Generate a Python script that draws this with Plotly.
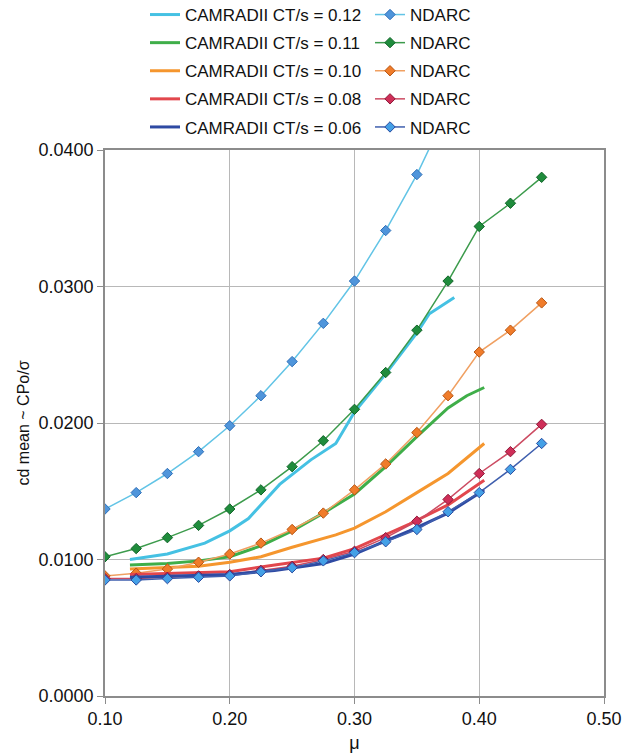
import plotly.graph_objects as go

# ---------------- data ----------------
mu_ndarc = [0.100, 0.125, 0.150, 0.175, 0.200, 0.225, 0.250, 0.275,
            0.300, 0.325, 0.350, 0.375, 0.400, 0.425, 0.450]

nd_012 = [0.0137, 0.0149, 0.0163, 0.0179, 0.0198, 0.0220, 0.0245, 0.0273,
          0.0304, 0.0341, 0.0382, 0.0430]
nd_011 = [0.0102, 0.0108, 0.0116, 0.0125, 0.0137, 0.0151, 0.0168, 0.0187,
          0.0210, 0.0237, 0.0268, 0.0304, 0.0344, 0.0361, 0.0380]
nd_010 = [0.0088, 0.0090, 0.0093, 0.0098, 0.0104, 0.0112, 0.0122, 0.0134,
          0.0151, 0.0170, 0.0193, 0.0220, 0.0252, 0.0268, 0.0288]
nd_008 = [0.0086, 0.0086, 0.0087, 0.0088, 0.0089, 0.0092, 0.0095, 0.0100,
          0.0106, 0.0116, 0.0128, 0.0144, 0.0163, 0.0179, 0.0199]
nd_006 = [0.0085, 0.0085, 0.0086, 0.0087, 0.0088, 0.0091, 0.0094, 0.0099,
          0.0105, 0.0113, 0.0122, 0.0135, 0.0149, 0.0166, 0.0185]

mu_cam_012 = [0.12, 0.15, 0.18, 0.20, 0.215, 0.24, 0.265, 0.285, 0.30,
              0.325, 0.35, 0.36, 0.38]
cam_012 = [0.0100, 0.0104, 0.0112, 0.0121, 0.0130, 0.0155, 0.0173, 0.0185,
           0.0208, 0.0236, 0.0266, 0.0280, 0.0292]

mu_cam_011 = [0.12, 0.15, 0.175, 0.20, 0.225, 0.25, 0.275, 0.30, 0.325,
              0.35, 0.375, 0.39, 0.404]
cam_011 = [0.0096, 0.0097, 0.0099, 0.0102, 0.0110, 0.0121, 0.0134, 0.0148,
           0.0168, 0.0190, 0.0211, 0.0220, 0.0226]

mu_cam_010 = [0.12, 0.15, 0.175, 0.20, 0.225, 0.25, 0.285, 0.30, 0.325,
              0.35, 0.375, 0.404]
cam_010 = [0.0093, 0.0094, 0.0095, 0.0098, 0.0102, 0.0109, 0.0118, 0.0123,
           0.0135, 0.0149, 0.0163, 0.0185]

mu_cam_low = [0.12, 0.16, 0.20, 0.236, 0.275, 0.30, 0.344, 0.375, 0.404]
cam_008 = [0.0089, 0.0090, 0.0091, 0.0096, 0.0101, 0.0108, 0.0126, 0.0140, 0.0158]
cam_006 = [0.0087, 0.0088, 0.0089, 0.0092, 0.0097, 0.0104, 0.0121, 0.0134, 0.0151]

cam_labels = ["CAMRADII CT/s = 0.12", "CAMRADII CT/s = 0.11", "CAMRADII CT/s = 0.10",
              "CAMRADII CT/s = 0.08", "CAMRADII CT/s = 0.06"]
nd_label = "NDARC"

x_ticks = [0.10, 0.20, 0.30, 0.40, 0.50]
y_ticks = [0.0, 0.01, 0.02, 0.03, 0.04]

# ---------------- styles ----------------
cam_colors = ["#45c1e3", "#3fae49", "#f5962e", "#e2474d", "#2e4aa3"]
nd_line_colors = ["#62c4e6", "#3c9b4c", "#f0a062", "#cc4b62", "#3f5fae"]
nd_marker_fill = ["#4f95db", "#1f8c3c", "#f07c2a", "#cf2e58", "#44a0e6"]
nd_marker_edge = ["#2f6fb8", "#12652a", "#b85512", "#8e1838", "#2a4ca0"]

cam_sets = [(mu_cam_012, cam_012), (mu_cam_011, cam_011), (mu_cam_010, cam_010),
            (mu_cam_low, cam_008), (mu_cam_low, cam_006)]
nd_sets = [nd_012, nd_011, nd_010, nd_008, nd_006]

fig = go.Figure()
for i in range(5):
    cx, cy = cam_sets[i]
    fig.add_trace(go.Scatter(
        x=cx, y=cy, mode="lines", name=cam_labels[i],
        line=dict(color=cam_colors[i], width=3),
        legend="legend", legendgroup="c%d" % i,
    ))
    ny = nd_sets[i]
    fig.add_trace(go.Scatter(
        x=mu_ndarc[:len(ny)], y=ny, mode="lines+markers", name=nd_label,
        line=dict(color=nd_line_colors[i], width=1.5),
        marker=dict(symbol="diamond", size=8, color=nd_marker_fill[i],
                    line=dict(color=nd_marker_edge[i], width=1)),
        legend="legend2", legendgroup="n%d" % i,
    ))

font_family = "Liberation Sans, Arial, sans-serif"
L, R, T, B = 105, 27, 150, 60
pw, ph = 631 - L - R, 756 - T - B
legend_common = dict(
    xref="paper", yref="paper", yanchor="top", xanchor="left",
    y=(ph + T + 3) / ph, bgcolor="rgba(0,0,0,0)", borderwidth=0,
    font=dict(size=17, color="#111", family=font_family),
    tracegroupgap=3, traceorder="grouped",
)

fig.update_layout(
    width=631, height=756,
    margin=dict(l=L, r=R, t=T, b=B, autoexpand=False),
    paper_bgcolor="white", plot_bgcolor="white",
    font=dict(family=font_family, color="#111"),
    showlegend=True,
    legend=dict(x=(145 - L) / pw, **legend_common),
    legend2=dict(x=(370 - L) / pw, **legend_common),
    xaxis=dict(
        range=[0.10, 0.50], tickvals=x_ticks, tickformat=".2f",
        showgrid=True, gridcolor="#b8b8b8", gridwidth=1,
        showline=True, linecolor="#8c8c8c", linewidth=1.5, mirror=True,
        ticks="outside", ticklen=6, tickcolor="#8c8c8c",
        tickfont=dict(size=18, color="#111"),
        title=dict(text="μ", font=dict(size=18, color="#111"), standoff=8),
        zeroline=False, automargin=False,
    ),
    yaxis=dict(
        range=[0.0, 0.04], tickvals=y_ticks, tickformat=".4f",
        showgrid=True, gridcolor="#b8b8b8", gridwidth=1,
        showline=True, linecolor="#8c8c8c", linewidth=1.5, mirror=True,
        ticks="outside", ticklen=6, tickcolor="#8c8c8c",
        tickfont=dict(size=18, color="#111"),
        title=dict(text="cd mean ~ CPo/σ", font=dict(size=16, color="#111"), standoff=5),
        zeroline=False, automargin=False,
    ),
)

fig.write_html("out.html")
